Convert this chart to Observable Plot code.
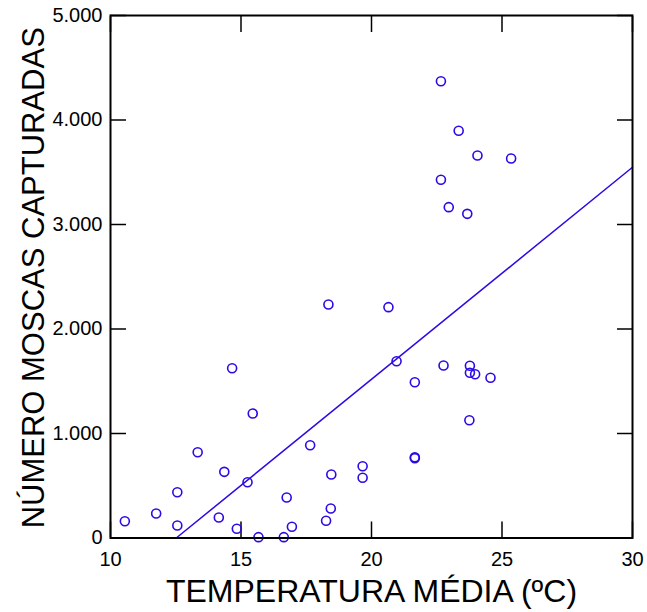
<!DOCTYPE html>
<html><head><meta charset="utf-8">
<script src="https://cdn.jsdelivr.net/npm/d3@7"></script>
<script src="https://cdn.jsdelivr.net/npm/@observablehq/plot@0.6"></script>
<style>body{margin:0;background:#fff} svg{display:block}</style>
</head><body><div id="chart"></div>
<script>
const temperatura = [10.55, 11.75, 12.56, 12.56, 13.34, 14.15, 14.36, 14.66, 14.84, 15.25,
  15.45, 15.67, 16.64, 16.75, 16.95, 17.65, 18.26, 18.35, 18.46, 18.44,
  19.66, 19.66, 20.65, 20.96, 21.66, 21.66, 21.66, 22.66, 22.66, 22.76,
  22.96, 23.34, 23.67, 23.77, 23.77, 23.75, 23.97, 24.06, 24.56, 25.35];
const moscas = [161, 234, 438, 120, 821, 196, 633, 1625, 88, 534,
  1191, 8, 8, 388, 107, 888, 165, 2234, 608, 282,
  687, 576, 2209, 1692, 1491, 773, 764, 4371, 3428, 1651,
  3166, 3897, 3102, 1648, 1581, 1127, 1567, 3660, 1533, 3632];
const xTicks = [10, 15, 20, 25, 30];
const yTicks = [0, 1000, 2000, 3000, 4000, 5000];
const fitX = [12.52, 30];
const fitY = [0, 3548];
const xTitle = "TEMPERATURA MÉDIA (ºC)";
const yTitle = "NÚMERO MOSCAS CAPTURADAS";

const points = temperatura.map((t, i) => ({t, n: moscas[i]}));
const fit = fitX.map((x, i) => ({x, y: fitY[i]}));
const blue = "#2a0ae6";
const fmtY = d => d === 0 ? "0" : d3.format(",")(d).replace(/,/g, ".");
const noText = () => "";

const chart = Plot.plot({
  width: 647, height: 612,
  marginLeft: 110, marginRight: 15, marginTop: 15, marginBottom: 74.5,
  style: {fontFamily: "'Liberation Sans', Arial, sans-serif", background: "#fff", color: "#000"},
  x: {domain: [10, 30]},
  y: {domain: [0, 5000]},
  marks: [
    Plot.axisX(xTicks, {anchor: "bottom", tickSize: 0, tickPadding: 14, fontSize: 20, label: null}),
    Plot.axisX(xTicks, {anchor: "bottom", tickSize: 16, dy: -16, tickFormat: noText, strokeWidth: 1.5, label: null}),
    Plot.axisX(xTicks, {anchor: "top", tickSize: 16, dy: 16, tickFormat: noText, strokeWidth: 1.5, label: null}),
    Plot.axisY(yTicks, {anchor: "left", tickSize: 0, tickPadding: 8, tickFormat: fmtY, fontSize: 20, label: null}),
    Plot.axisY(yTicks, {anchor: "left", tickSize: 16, dx: 16, tickFormat: noText, strokeWidth: 1.5, label: null}),
    Plot.axisY(yTicks, {anchor: "right", tickSize: 16, dx: -16, tickFormat: noText, strokeWidth: 1.5, label: null}),
    Plot.line(fit, {x: "x", y: "y", stroke: blue, strokeWidth: 1.5}),
    Plot.dot(points, {x: "t", y: "n", r: 4.5, stroke: blue, strokeWidth: 1.6, fill: "none"}),
    Plot.frame({stroke: "#000", strokeWidth: 2}),
    Plot.text([xTitle], {frameAnchor: "bottom", textAnchor: "middle", dy: 64, lineAnchor: "bottom", fontSize: 32, letterSpacing: "-0.25px"}),
    Plot.text([yTitle], {frameAnchor: "left", textAnchor: "middle", dx: -67, dy: 1, rotate: -90, lineAnchor: "bottom", fontSize: 31})
  ]
});
document.getElementById("chart").appendChild(chart);
</script>
</body></html>
